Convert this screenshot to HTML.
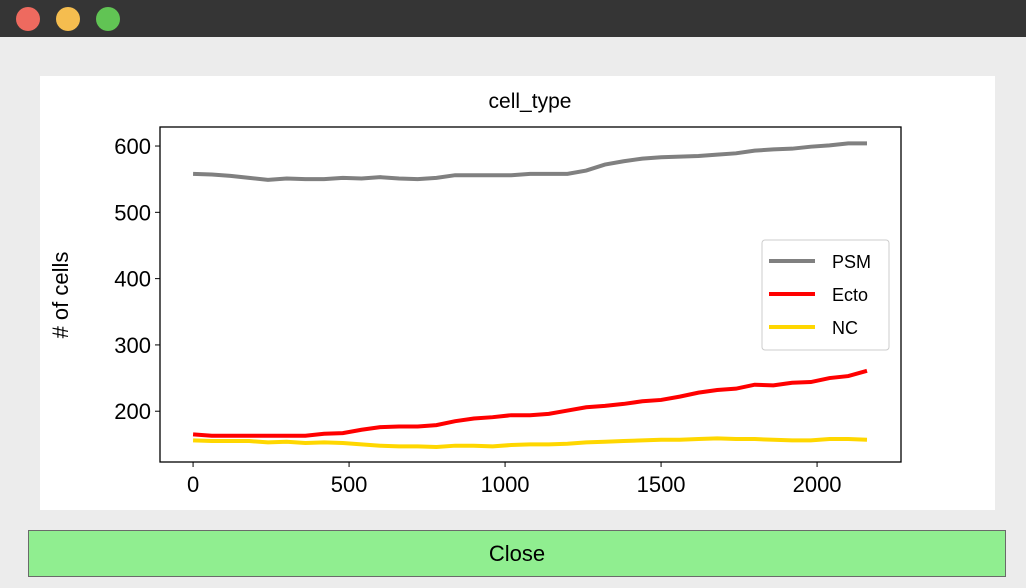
<!DOCTYPE html>
<html><head><meta charset="utf-8"><style>
body{margin:0;width:1026px;height:588px;background:#ececec;font-family:"Liberation Sans",sans-serif;overflow:hidden;position:relative}
#bar{position:absolute;left:0;top:0;width:1026px;height:37px;background:#353535}
.dot{position:absolute;top:7px;width:24px;height:24px;border-radius:50%}
#panel{position:absolute;left:40px;top:76px;width:955px;height:434px;background:#fff}
#close{position:absolute;left:28px;top:530px;width:978px;height:47px;background:#90ee90;border:1px solid #6a6a6a;box-sizing:border-box;font-size:22px;text-align:center;line-height:46px;color:#000}
</style></head><body>
<div id="bar">
<div class="dot" style="left:16px;background:#ee6a5f"></div>
<div class="dot" style="left:56px;background:#f5bd4f"></div>
<div class="dot" style="left:96px;background:#61c454"></div>
</div>
<div id="panel"></div>
<svg id="chart" width="1026" height="588" style="position:absolute;left:0;top:0"></svg>
<div id="close">Close</div>
<script>
const xs=[0,60,120,180,240,300,360,420,480,540,600,660,720,780,840,900,960,1020,1080,1140,1200,1260,1320,1380,1440,1500,1560,1620,1680,1740,1800,1860,1920,1980,2040,2100,2160];
const psm=[558,557,555,552,549,551,550,550,552,551,553,551,550,552,556,556,556,556,558,558,558,563,572,577,581,583,584,585,587,589,593,595,596,599,601,604,604];
const ecto=[165,163,163,163,163,163,163,166,167,172,176,177,177,179,185,189,191,194,194,196,201,206,208,211,215,217,222,228,232,234,240,239,243,244,250,253,261];
const nc=[156,155,155,155,153,154,152,153,152,150,148,147,147,146,148,148,147,149,150,150,151,153,154,155,156,157,157,158,159,158,158,157,156,156,158,158,157];
const xTicks=[0,500,1000,1500,2000];
const yTicks=[200,300,400,500,600];
const L=160,R=901,T=127,B=462,xmin=-106,xmax=2269,ymin=123.4,ymax=628.7;
const X=v=>L+(v-xmin)/(xmax-xmin)*(R-L);
const Y=v=>B-(v-ymin)/(ymax-ymin)*(B-T);
const svg=document.getElementById('chart');
const NS='http://www.w3.org/2000/svg';
function mk(t,a){const e=document.createElementNS(NS,t);for(const k in a)e.setAttribute(k,a[k]);svg.appendChild(e);return e;}
let e=mk('rect',{x:L,y:T,width:R-L,height:B-T,fill:'none',stroke:'#000','stroke-width':1.3});


xTicks.forEach(v=>{
 let t=mk('line',{x1:X(v),x2:X(v),y1:B,y2:B+5,stroke:'#000'});
 
 
 let l=mk('text',{x:X(v),y:B+30,'text-anchor':'middle','font-size':22,fill:'#000'});l.textContent=v;
 
 
});
yTicks.forEach(v=>{
 let t=mk('line',{x1:L-5,x2:L,y1:Y(v),y2:Y(v),stroke:'#000'});
 
 
 let l=mk('text',{x:L-9,y:Y(v)+8,'text-anchor':'end','font-size':22,fill:'#000'});l.textContent=v;
 
 
});
let yt=mk('text',{x:68,y:295,'text-anchor':'middle','font-size':22,transform:'rotate(-90 68 295)',fill:'#000'});yt.textContent='# of cells';


let tt=mk('text',{x:530,y:108,'text-anchor':'middle','font-size':21,fill:'#000'});tt.textContent='cell_type';


const series=[['PSM',psm,'#808080'],['Ecto',ecto,'#ff0000'],['NC',nc,'#ffd700']];
series.forEach(([n,d,c])=>{
 let p=mk('polyline',{points:xs.map((x,i)=>X(x)+','+Y(d[i])).join(' '),fill:'none',stroke:c,'stroke-width':4});
 
 
});
let lg=mk('rect',{x:762,y:240,width:127,height:110,rx:3,fill:'#fff',stroke:'#ccc'});


series.forEach(([n,d,c],i)=>{
 const y=261+i*33;
 let l=mk('line',{x1:769,x2:815,y1:y,y2:y,stroke:c,'stroke-width':4});
 
 
 let t=mk('text',{x:832,y:y+7,'font-size':18,fill:'#000'});t.textContent=n;
 
 
});
</script>
</body></html>
